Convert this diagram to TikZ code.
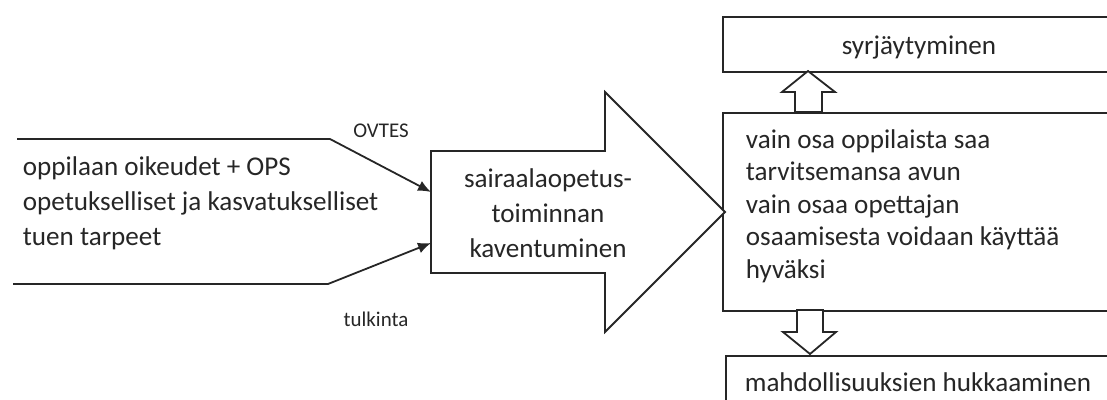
\documentclass[tikz,border=0pt]{standalone}
\usepackage{fontspec}
\setmainfont{Carlito}
\usetikzlibrary{arrows.meta}
\begin{document}
\begin{tikzpicture}[x=1bp,y=-1bp,
  line width=1.8bp, line join=miter,
  ink/.style={draw=black!85},
  bigtxt/.style={font=\fontsize{27.2}{35}\selectfont, text=black!85, inner sep=0pt},
  boxtxt/.style={font=\fontsize{27.2}{32.5}\selectfont, text=black!85, inner sep=0pt},
  lbl/.style={font=\fontsize{21}{24}\selectfont, text=black!85, inner sep=0pt},
  feed/.style={draw=black!85, -{Latex[length=13bp,width=11bp]}},
  block/.style={draw=black!85, fill=white}]
\useasboundingbox (0,0) rectangle (1107,399);
\begin{scope}
\clip (0,0) rectangle (1107,399);

% result boxes on the right
\node[ink, anchor=north west, minimum width=394bp, minimum height=55bp, inner sep=0pt]
  (top) at (722,16) {};
\node[bigtxt, anchor=base] at (919,54) {syrjäytyminen};
\node[ink, anchor=north west, minimum width=394bp, minimum height=198bp, inner sep=0pt]
  (mid) at (722,112) {};
\node[boxtxt, align=left, anchor=base west] (midtxt) at (745,278)
  {vain osa oppilaista saa\\tarvitsemansa avun\\vain osaa opettajan\\osaamisesta voidaan käyttää\\hyväksi};
\node[ink, anchor=north west, minimum width=390bp, minimum height=60bp, inner sep=0pt]
  (bot) at (725,355) {};
\node[bigtxt, anchor=base] at (918,391) {mahdollisuuksien hukkaaminen};

% hollow block arrows between the boxes
\draw[block] (808,71) -- (835,92) -- (822,92) -- (822,112) -- (795,112) -- (795,92) -- (782,92) -- cycle;
\draw[block] (797,310) -- (823,310) -- (823,332) -- (836,332) -- (810,354) -- (783,332) -- (797,332) -- cycle;

% the big arrow
\coordinate (kinA) at (431,192);
\coordinate (kinB) at (431,243);
\draw[block] (431,151) -- (605,151) -- (605,92) -- (725,212) -- (605,332) -- (605,273) -- (431,273) -- cycle;
\node[bigtxt, align=center, anchor=base] (kav) at (548,257)
  {sairaalaopetus-\\toiminnan\\kaventuminen};

% input channel on the left
\coordinate (t0) at (17,139);
\coordinate (t1) at (330,139);
\coordinate (b0) at (13,284);
\coordinate (b1) at (328,284);
\draw[feed] (t0) -- (t1) -- (kinA);
\draw[feed] (b0) -- (b1) -- (kinB);
\node[bigtxt, align=left, anchor=base west] (inp) at (22,245)
  {oppilaan oikeudet + OPS\\opetukselliset ja kasvatukselliset\\tuen tarpeet};
\node[lbl] (ovtes) at (381,131) {OVTES};
\node[lbl] (tulk) at (376,319) {tulkinta};
\end{scope}
\end{tikzpicture}
\end{document}
